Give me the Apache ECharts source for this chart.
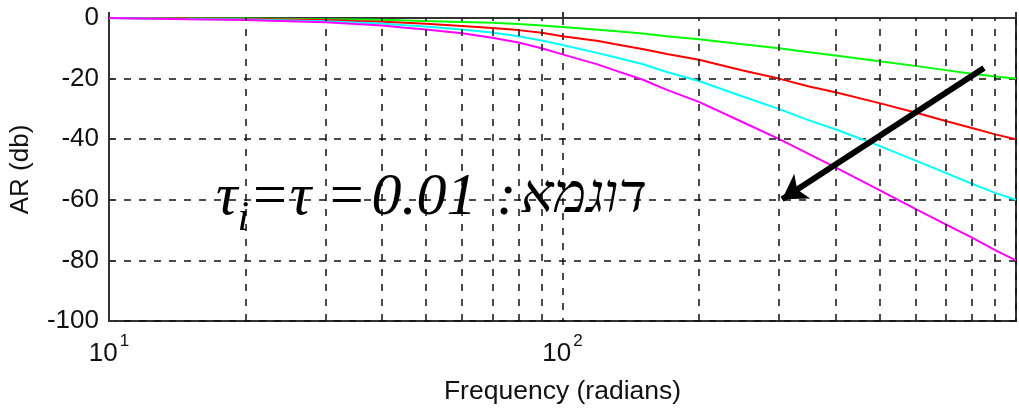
<!DOCTYPE html>
<html>
<head>
<meta charset="utf-8">
<script src="https://cdn.jsdelivr.net/npm/echarts@6/dist/echarts.min.js"></script>
<style>
html,body{margin:0;padding:0;background:#fff;}
#main{width:1019px;height:411px;}
</style>
</head>
<body>
<div id="main"></div>
<script>
// frequencies (rad) and AR (db)
var freq    = [10, 15, 20, 30, 35, 40, 45, 50, 60, 70, 80, 90, 100, 120, 130, 150, 170, 200, 250, 300, 350, 400, 500, 600, 700, 800, 900, 1000];
var arGreen = [0, -0.1, -0.2, -0.4, -0.5, -0.6, -0.8, -1.0, -1.3, -1.6, -2.0, -2.5, -3.0, -3.9, -4.3, -5.1, -6.0, -7.0, -8.7, -10.0, -11.3, -12.4, -14.3, -15.8, -17.2, -18.4, -19.3, -20.0];
var arRed   = [0, -0.2, -0.3, -0.7, -1.0, -1.2, -1.6, -1.9, -2.6, -3.3, -4.0, -4.9, -6.0, -7.6, -8.6, -10.2, -11.9, -13.8, -17.3, -20.0, -22.6, -24.5, -28.1, -31.2, -34.0, -36.3, -38.4, -40.0];
var arCyan  = [0, -0.3, -0.5, -1.1, -1.5, -1.8, -2.4, -2.8, -3.8, -4.8, -6.0, -7.4, -8.9, -11.6, -12.9, -15.2, -17.8, -20.8, -25.9, -30.0, -33.8, -36.7, -42.2, -47.0, -51.1, -54.7, -57.7, -60.0];
var arMag   = [0, -0.4, -0.7, -1.4, -2.0, -2.5, -3.2, -3.8, -5.0, -6.5, -8.1, -10.0, -12.0, -15.4, -17.2, -20.3, -23.7, -27.7, -34.4, -39.9, -44.9, -49.3, -56.8, -63.0, -68.1, -72.5, -76.6, -80.0];
var minorFreq = [20, 30, 40, 50, 60, 70, 80, 90, 200, 300, 400, 500, 600, 700, 800, 900];
var arrowFrom = [850, -16.5];
var arrowTo   = [305, -59.8];

var sans = "'Liberation Sans', Arial, sans-serif";
var serif = "'Liberation Serif', 'Times New Roman', serif";
var gridStyle = {color: '#111', width: 1.5, type: [7, 8]};

function pairs(ys){
    return freq.map(function(f, i){ return [f, ys[i]]; });
}
function curve(name, color, ys){
    return {
        name: name, type: 'line', data: pairs(ys), z: 3,
        symbol: 'none', smooth: false, silent: true,
        lineStyle: {color: color, width: 2}
    };
}

var chart = echarts.init(document.getElementById('main'));
chart.setOption({
    animation: false,
    backgroundColor: '#fff',
    grid: {left: 108, right: 2, top: 18, bottom: 90, show: true, borderColor: '#333', borderWidth: 2},
    xAxis: {
        type: 'log', logBase: 10, min: 10, max: 1000,
        name: 'Frequency (radians)', nameLocation: 'middle', nameGap: 57,
        nameTextStyle: {fontSize: 26.5, fontFamily: sans, color: '#111'},
        axisLine: {lineStyle: {color: '#333', width: 2}},
        axisTick: {show: true, inside: true, length: 6, lineStyle: {color: '#333', width: 2}},
        splitLine: {show: true, lineStyle: gridStyle},
        axisLabel: {
            margin: 12,
            formatter: function(v){
                var e = Math.round(Math.log(v) / Math.LN10);
                if (e >= 3) return '';
                return '{b|10}{s|' + e + '}';
            },
            rich: {
                b: {fontSize: 26, lineHeight: 34, fontFamily: sans, color: '#111', verticalAlign: 'bottom'},
                s: {fontSize: 17, lineHeight: 17, fontFamily: sans, color: '#111', verticalAlign: 'top', padding: [0, 0, 0, 2]}
            }
        }
    },
    yAxis: {
        type: 'value', min: -100, max: 0, interval: 20,
        name: 'AR (db)', nameLocation: 'middle', nameGap: 75, nameRotate: 90,
        nameTextStyle: {fontSize: 26, fontFamily: sans, color: '#111'},
        axisLine: {show: true, lineStyle: {color: '#333', width: 2}},
        axisTick: {show: true, inside: true, length: 6, lineStyle: {color: '#333', width: 2}},
        splitLine: {show: true, lineStyle: gridStyle},
        axisLabel: {margin: 10, fontSize: 26, fontFamily: sans, color: '#111'}
    },
    series: [
        {
            type: 'line', data: [], z: 1, silent: true,
            markLine: {
                silent: true, symbol: 'none', animation: false,
                label: {show: false},
                lineStyle: gridStyle,
                data: minorFreq.map(function(f){ return {xAxis: f}; })
            }
        },
        curve('n1', '#00ff00', arGreen),
        curve('n2', '#ff0000', arRed),
        curve('n3', '#00ffff', arCyan),
        curve('n4', '#ff00ff', arMag),
        {
            type: 'line', data: [], z: 5, silent: true,
            markLine: {
                silent: true, animation: false,
                symbol: ['none', 'arrow'], symbolSize: [22, 24],
                label: {show: false},
                lineStyle: {color: '#000', width: 6, type: 'solid'},
                data: [[{coord: arrowFrom}, {coord: arrowTo}]]
            }
        }
    ],
    graphic: [{
        type: 'text', left: 216, top: 168, z: 10,
        style: {
            text: '{t|τ}{i|i}{t|=τ =\u200a0.01 \u200a:}{h|דוגמא}',
            rich: {
                t: {fontSize: 60, lineHeight: 64, fontFamily: serif, fontStyle: 'italic', fill: '#000', verticalAlign: 'top'},
                i: {fontSize: 42, lineHeight: 42, fontFamily: serif, fontStyle: 'italic', fill: '#000', verticalAlign: 'top', padding: [30, 0, 0, 0]},
                h: {fontSize: 55, lineHeight: 64, fontFamily: serif, fontStyle: 'italic', fill: '#000', verticalAlign: 'top', padding: [2, 0, 0, 4]}
            }
        }
    }]
});
</script>
</body>
</html>
